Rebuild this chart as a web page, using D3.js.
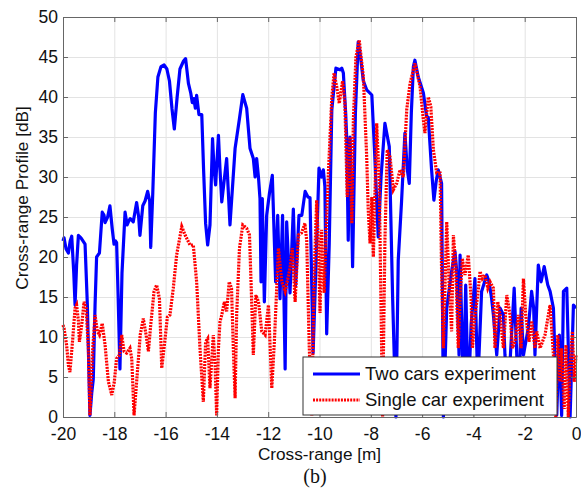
<!DOCTYPE html>
<html>
<head>
<meta charset="utf-8">
<script src="https://cdn.jsdelivr.net/npm/d3@7"></script>
<style>
  body { margin: 0; background: #fff; }
  .tick text { font-family: "Liberation Sans", Arial, sans-serif; font-size: 17.5px; fill: #111; }
  .grid line { stroke: #e3e3e3; stroke-width: 1; }
  .grid path { stroke: none; }
  .frame line, .frame path { stroke: #666; }
  .label { font-family: "Liberation Sans", Arial, sans-serif; font-size: 17.2px; fill: #111; }
  .legend-text { font-family: "Liberation Sans", Arial, sans-serif; font-size: 18.5px; fill: #111; }
  .caption { font-family: "Liberation Serif", "Times New Roman", serif; font-size: 20px; fill: #111; }
</style>
</head>
<body>
<div id="graphic"></div>
<script>
var width = 581;
var height = 490;
var plotLeft = 63;
var plotRight = 576;
var plotTop = 17;
var plotBottom = 417;
var tickLength = 5;
var lineWidth = 3.2;

var seriesNames = ["Two cars experiment", "Single car experiment"];
var xTicks = [-20, -18, -16, -14, -12, -10, -8, -6, -4, -2, 0];
var yTicks = [0, 5, 10, 15, 20, 25, 30, 35, 40, 45, 50];

// [cross-range m, profile dB]
var twoCars = [
  [-20, 22.0], [-19.96, 22.4], [-19.88, 21.0], [-19.79, 20.5], [-19.72, 22.0], [-19.66, 22.6],
  [-19.58, 18.0], [-19.53, 14.0], [-19.47, 19.0], [-19.40, 22.7], [-19.30, 22.4], [-19.14, 21.6],
  [-19.05, 14.0], [-18.95, 0.2], [-18.88, 3.0], [-18.82, 4.7], [-18.75, 14.0], [-18.69, 20.0],
  [-18.58, 20.5], [-18.47, 25.6], [-18.40, 25.2], [-18.36, 24.3], [-18.26, 25.0], [-18.17, 26.4],
  [-18.08, 23.5], [-18.01, 21.6], [-17.95, 22.0], [-17.91, 21.8], [-17.85, 15.0], [-17.78, 6.0],
  [-17.70, 18.0], [-17.58, 25.6], [-17.50, 24.0], [-17.45, 24.4], [-17.38, 24.8], [-17.32, 24.6],
  [-17.26, 24.4], [-17.13, 26.8], [-17.05, 25.0], [-17.00, 22.7], [-16.89, 26.4], [-16.80, 27.0],
  [-16.70, 28.2], [-16.62, 27.0], [-16.58, 21.2], [-16.50, 28.0], [-16.40, 38.0], [-16.30, 42.5],
  [-16.18, 43.8], [-16.06, 44.0], [-15.95, 43.5], [-15.85, 42.0], [-15.75, 38.5], [-15.66, 36.0],
  [-15.55, 40.0], [-15.44, 43.5], [-15.30, 44.5], [-15.22, 44.8], [-15.11, 41.7], [-15.02, 40.5],
  [-14.96, 39.3], [-14.90, 39.8], [-14.84, 38.6], [-14.79, 40.2], [-14.70, 37.8], [-14.59, 37.8],
  [-14.52, 31.0], [-14.44, 24.2], [-14.36, 21.5], [-14.27, 24.0], [-14.17, 34.8], [-14.11, 31.0],
  [-14.05, 29.0], [-13.94, 35.2], [-13.88, 31.0], [-13.81, 26.9], [-13.62, 32.3], [-13.49, 24.0],
  [-13.29, 33.6], [-13.12, 37.3], [-12.99, 40.3], [-12.84, 38.6], [-12.71, 33.6], [-12.58, 32.3],
  [-12.51, 30.0], [-12.45, 32.3], [-12.38, 30.0], [-12.32, 27.3], [-12.28, 16.9], [-12.23, 27.3],
  [-12.15, 14.4], [-12.06, 25.2], [-11.95, 28.0], [-11.84, 30.2], [-11.71, 16.9], [-11.63, 25.2],
  [-11.54, 14.8], [-11.44, 25.2], [-11.34, 6.0], [-11.28, 24.4], [-11.15, 15.5], [-11.02, 26.0],
  [-10.93, 16.5], [-10.80, 25.2], [-10.69, 25.2], [-10.56, 28.2], [-10.45, 27.5], [-10.37, 27.4],
  [-10.25, 8.0], [-10.14, 18.8], [-10.02, 31.1], [-9.92, 30.0], [-9.85, 30.9], [-9.79, 28.8],
  [-9.72, 10.4], [-9.62, 21.7], [-9.52, 38.4], [-9.36, 43.6], [-9.20, 43.4], [-9.13, 43.6],
  [-9.07, 43.0], [-8.98, 38.0], [-8.94, 35.0], [-8.88, 22.1], [-8.84, 30.0], [-8.81, 35.0],
  [-8.76, 28.0], [-8.71, 18.8], [-8.60, 38.0], [-8.49, 46.9], [-8.40, 45.0], [-8.29, 42.0],
  [-8.16, 40.9], [-7.96, 40.25], [-7.85, 33.0], [-7.71, 22.5], [-7.60, 30.0], [-7.45, 36.7],
  [-7.35, 35.0], [-7.28, 33.8], [-7.15, 15.0], [-7.02, 0], [-6.93, 19.6], [-6.80, 27.0],
  [-6.67, 35.5], [-6.58, 31.0], [-6.50, 29.2], [-6.42, 38.0], [-6.34, 43.8], [-6.28, 44.6],
  [-6.15, 42.5], [-5.95, 40.5], [-5.82, 37.5], [-5.76, 37.5], [-5.63, 30.9], [-5.54, 27.1],
  [-5.45, 29.5], [-5.37, 30.9], [-5.24, 29.2], [-5.17, 0], [-5.04, 13.6], [-4.85, 18.2],
  [-4.72, 20.7], [-4.65, 18.2], [-4.56, 7.75], [-4.52, 20.25], [-4.39, 3.0], [-4.30, 16.5],
  [-4.20, 2.0], [-4.09, 11.5], [-3.94, 17.3], [-3.83, 4.0], [-3.68, 15.7], [-3.48, 17.75],
  [-3.39, 16.9], [-3.29, 14.8], [-3.22, 12.75], [-3.09, 7.75], [-2.96, 13.6], [-2.83, 12.75],
  [-2.77, 7.75], [-2.64, 3.0], [-2.41, 16.1], [-2.31, 7.75], [-2.22, 2.0], [-2.14, 13.6],
  [-2.05, 7.75], [-1.86, 11.1], [-1.73, 15.7], [-1.65, 13.6], [-1.60, 7.75], [-1.47, 19.0],
  [-1.36, 16.9], [-1.24, 18.8], [-1.10, 16.5], [-1.01, 15.7], [-0.88, 13.6], [-0.75, 0.25],
  [-0.65, 10.25], [-0.56, 0.2], [-0.49, 15.7], [-0.36, 16.1], [-0.23, 0], [-0.10, 14.0],
  [0, 13.6]
];

var singleCar = [
  [-20, 11.5], [-19.96, 11.1], [-19.86, 9.0], [-19.79, 6.5], [-19.73, 5.6], [-19.62, 9.8],
  [-19.53, 13.6], [-19.47, 14.0], [-19.40, 12.0], [-19.36, 9.4], [-19.27, 11.5], [-19.18, 14.4],
  [-19.10, 13.6], [-19.01, 8.6], [-18.95, 0.2], [-18.84, 8.6], [-18.75, 12.75], [-18.66, 10.7],
  [-18.58, 10.25], [-18.47, 11.7], [-18.36, 9.0], [-18.23, 4.4], [-18.10, 2.75], [-18.00, 4.4],
  [-17.91, 7.3], [-17.80, 7.75], [-17.71, 10.25], [-17.62, 8.2], [-17.52, 8.0], [-17.39, 8.6],
  [-17.32, 7.3], [-17.23, 0.2], [-17.06, 7.3], [-16.99, 10.25], [-16.87, 12.3], [-16.76, 10.25],
  [-16.67, 8.2], [-16.58, 11.5], [-16.45, 15.7], [-16.35, 16.5], [-16.24, 14.8], [-16.15, 6.1],
  [-16.02, 9.8], [-15.93, 12.5], [-15.83, 12.75], [-15.70, 16.1], [-15.57, 20.25], [-15.37, 23.8],
  [-15.24, 22.75], [-15.05, 21.5], [-14.92, 21.5], [-14.79, 16.9], [-14.66, 8.6], [-14.53, 1.9],
  [-14.44, 9.4], [-14.36, 9.8], [-14.27, 3.6], [-14.14, 10.25], [-14.07, 6.5], [-14.01, 0.2],
  [-13.94, 8.6], [-13.88, 11.9], [-13.81, 12.75], [-13.71, 14.4], [-13.62, 13.2], [-13.52, 16.9],
  [-13.43, 16.1], [-13.36, 8.6], [-13.29, 2.35], [-13.23, 12.75], [-13.12, 21.1], [-12.99, 24.0],
  [-12.84, 23.6], [-12.73, 22.75], [-12.64, 14.0], [-12.58, 7.75], [-12.48, 15.25], [-12.38, 14.4],
  [-12.25, 10.7], [-12.12, 10.25], [-11.99, 14.0], [-11.86, 3.6], [-11.76, 9.4], [-11.60, 21.1],
  [-11.47, 16.9], [-11.34, 15.7], [-11.15, 18.6], [-11.06, 21.1], [-10.95, 14.4], [-10.82, 22.75],
  [-10.70, 23.0], [-10.57, 24.2], [-10.50, 22.1], [-10.40, 8.8], [-10.30, 0.2], [-10.21, 17.5],
  [-10.11, 27.1], [-10.05, 22.0], [-9.98, 13.0], [-9.92, 23.4], [-9.82, 15.5], [-9.75, 22.5],
  [-9.66, 30.0], [-9.52, 40.0], [-9.43, 43.0], [-9.33, 41.3], [-9.23, 39.2], [-9.10, 42.0],
  [-9.01, 39.2], [-8.92, 27.5], [-8.81, 35.0], [-8.74, 24.2], [-8.68, 37.1], [-8.58, 45.0],
  [-8.45, 47.1], [-8.29, 42.5], [-8.16, 32.5], [-8.10, 25.9], [-8.03, 21.7], [-7.96, 27.5],
  [-7.90, 20.0], [-7.77, 36.7], [-7.67, 29.2], [-7.54, 0], [-7.45, 22.0], [-7.36, 33.4],
  [-7.25, 32.5], [-7.12, 28.4], [-6.99, 29.2], [-6.86, 30.9], [-6.73, 30.0], [-6.60, 38.4],
  [-6.47, 41.7], [-6.28, 44.2], [-6.08, 41.3], [-5.95, 37.1], [-5.89, 35.5], [-5.76, 40.0],
  [-5.66, 38.8], [-5.56, 33.4], [-5.43, 30.5], [-5.30, 30.5], [-5.24, 18.2], [-5.17, 8.6],
  [-5.04, 24.4], [-4.95, 16.9], [-4.85, 10.7], [-4.78, 22.75], [-4.69, 19.0], [-4.59, 8.6],
  [-4.52, 14.8], [-4.43, 19.8], [-4.33, 17.75], [-4.20, 20.25], [-4.09, 14.8], [-4.04, 8.6],
  [-3.94, 12.75], [-3.83, 15.25], [-3.74, 18.2], [-3.65, 17.3], [-3.55, 17.75], [-3.44, 16.1],
  [-3.35, 16.9], [-3.22, 16.1], [-3.16, 8.6], [-3.05, 14.4], [-2.96, 12.75], [-2.83, 8.6],
  [-2.70, 15.25], [-2.57, 12.75], [-2.48, 8.6], [-2.38, 9.4], [-2.25, 12.75], [-2.14, 8.6],
  [-2.05, 17.3], [-1.96, 12.75], [-1.83, 9.4], [-1.73, 12.0], [-1.60, 8.6], [-1.53, 10.7],
  [-1.40, 8.6], [-1.21, 10.25], [-1.01, 14.0], [-0.88, 7.75], [-0.79, 0], [-0.71, 10.25],
  [-0.62, 4.4], [-0.56, 8.6], [-0.46, 1.0], [-0.39, 9.0], [-0.30, 0], [-0.23, 6.5],
  [-0.14, 10.7], [-0.07, 4.4], [0, 7.75]
];

var svg, xScale, yScale;

function renderLayout() {
  svg = d3.select("#graphic")
    .append("svg")
    .attr("width", width)
    .attr("height", height);
}

function defineScales() {
  xScale = d3.scaleLinear().domain([-20, 0]).range([plotLeft, plotRight]);
  yScale = d3.scaleLinear().domain([0, 50]).range([plotBottom, plotTop]);
}

// plain hyphen minus like the original figure
var tickText = d => String(d);

function renderGrid() {
  svg.append("g")
    .attr("class", "grid")
    .attr("transform", "translate(0, " + plotBottom + ")")
    .call(d3.axisBottom(xScale).tickValues(xTicks).tickSize(-(plotBottom - plotTop)).tickFormat(""));
  svg.append("g")
    .attr("class", "grid")
    .attr("transform", "translate(" + plotLeft + ", 0)")
    .call(d3.axisLeft(yScale).tickValues(yTicks).tickSize(-(plotRight - plotLeft)).tickFormat(""));
}

function renderAxis() {
  svg.append("g")
    .attr("class", "frame")
    .attr("transform", "translate(0, " + plotBottom + ")")
    .call(d3.axisBottom(xScale).tickValues(xTicks).tickFormat(tickText)
      .tickSize(-tickLength).tickPadding(11).tickSizeOuter(0));
  svg.append("g")
    .attr("class", "frame")
    .attr("transform", "translate(" + plotLeft + ", 0)")
    .call(d3.axisLeft(yScale).tickValues(yTicks).tickFormat(tickText)
      .tickSize(-tickLength).tickPadding(5).tickSizeOuter(0));
  svg.append("g")
    .attr("class", "frame")
    .attr("transform", "translate(0, " + plotTop + ")")
    .call(d3.axisTop(xScale).tickValues(xTicks).tickSize(-tickLength).tickFormat("").tickSizeOuter(0));
  svg.append("g")
    .attr("class", "frame")
    .attr("transform", "translate(" + plotRight + ", 0)")
    .call(d3.axisRight(yScale).tickValues(yTicks).tickSize(-tickLength).tickFormat("").tickSizeOuter(0));
}

var line = d3.line()
  .x(d => xScale(d[0]))
  .y(d => yScale(d[1]));

function renderLines() {
  var plot = svg.append("g");
  plot.append("path")
    .datum(twoCars)
    .attr("fill", "none")
    .attr("stroke", "#0000ff")
    .attr("stroke-width", lineWidth)
    .attr("stroke-linejoin", "round")
    .attr("d", line);
  plot.append("path")
    .datum(singleCar)
    .attr("fill", "none")
    .attr("stroke", "#ff0000")
    .attr("stroke-width", lineWidth)
    .attr("stroke-dasharray", "2,1.1")
    .attr("d", line);
}

function renderLegend() {
  var legend = svg.append("g").attr("transform", "translate(303, 357)");
  legend.append("rect")
    .attr("width", 254)
    .attr("height", 58)
    .attr("fill", "#fff")
    .attr("stroke", "#333")
    .attr("stroke-width", 1);
  var rows = legend.selectAll("g.row")
    .data(seriesNames)
    .join("g")
    .attr("class", "row")
    .attr("transform", (d, i) => "translate(0, " + (17 + i * 26) + ")");
  rows.append("line")
    .attr("x1", 10)
    .attr("x2", 57)
    .attr("stroke", (d, i) => i == 0 ? "#0000ff" : "#ff0000")
    .attr("stroke-width", lineWidth)
    .attr("stroke-dasharray", (d, i) => i == 0 ? null : "2,1.1");
  rows.append("text")
    .attr("class", "legend-text")
    .attr("x", 62)
    .attr("dy", "0.35em")
    .text(d => d);
}

function renderLabels() {
  svg.append("text")
    .attr("class", "label")
    .attr("text-anchor", "middle")
    .attr("x", (plotLeft + plotRight) / 2)
    .attr("y", 460)
    .text("Cross-range [m]");
  svg.append("text")
    .attr("class", "label")
    .attr("text-anchor", "middle")
    .attr("transform", "translate(28, 198) rotate(-90)")
    .text("Cross-range Profile [dB]");
  svg.append("text")
    .attr("class", "caption")
    .attr("text-anchor", "middle")
    .attr("x", 315)
    .attr("y", 483)
    .text("(b)");
}

renderLayout();
defineScales();
renderGrid();
renderLines();
renderAxis();
renderLegend();
renderLabels();
</script>
</body>
</html>
